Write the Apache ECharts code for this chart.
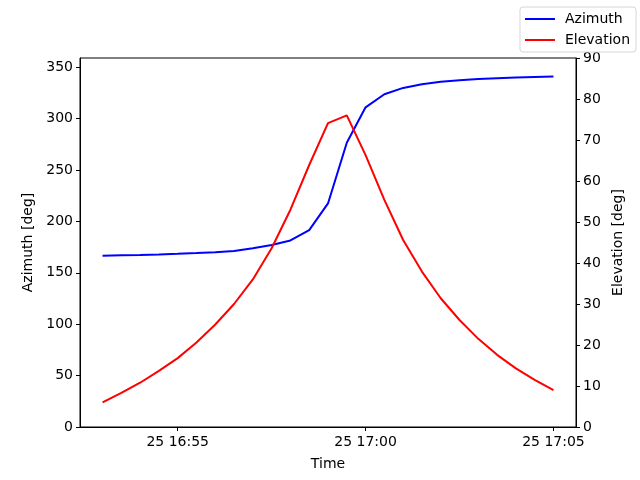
<!DOCTYPE html>
<html>
<head>
<meta charset="utf-8">
<script src="https://cdn.jsdelivr.net/npm/echarts@6/dist/echarts.min.js"></script>
<style>
  html, body { margin: 0; padding: 0; background: #fff; }
  #main { width: 640px; height: 480px; }
</style>
</head>
<body>
<div id="main"></div>
<script>
// samples every 30 s, 16:53:00 -> 17:05:00 on the 25th
var startTime = [2024, 0, 25, 16, 53, 0];
var stepSec = 30;
var tickMinutes = [[16, 55], [17, 0], [17, 5]];
var azimuth = [166.5, 167.0, 167.4, 167.9, 168.5, 169.2, 170.0, 171.3, 174.0, 177.0,
               181.5, 191.5, 217.5, 276.5, 311.0, 323.7, 329.9, 333.5, 335.8, 337.3,
               338.5, 339.3, 340.0, 340.5, 341.0];
var elevation = [6.0, 8.3, 10.8, 13.7, 16.8, 20.6, 25.0, 30.0, 36.0, 43.6,
                 53.0, 63.9, 74.1, 76.0, 66.3, 55.4, 45.6, 37.9, 31.4, 26.1,
                 21.5, 17.6, 14.3, 11.5, 9.0];

var t0 = new Date(startTime[0], startTime[1], startTime[2], startTime[3], startTime[4], startTime[5]).getTime();
var times = azimuth.map(function (v, i) { return t0 + i * stepSec * 1000; });
var span = times[times.length - 1] - times[0];
var tickTimes = tickMinutes.map(function (hm) {
  return new Date(startTime[0], startTime[1], startTime[2], hm[0], hm[1], 0).getTime();
});

function pad(n) { return (n < 10 ? '0' : '') + n; }

var font = 'DejaVu Sans';
var chart = echarts.init(document.getElementById('main'));
chart.setOption({
  animation: false,
  textStyle: { fontFamily: font },
  grid: { left: 80, right: 64, top: 58, bottom: 53, show: true, borderColor: '#000', borderWidth: 1 },
  legend: {
    orient: 'vertical', right: 4, top: 7,
    data: ['Azimuth', 'Elevation'],
    icon: 'rect', itemWidth: 30, itemHeight: 2, itemGap: 7,
    padding: [5, 6, 5, 5],
    borderColor: '#d6d6d6', borderWidth: 1, borderRadius: 3,
    textStyle: { fontSize: 14, color: '#000', fontFamily: font, padding: [0, 0, 0, 5] }
  },
  xAxis: {
    type: 'value',
    min: times[0] - span * 0.05,
    max: times[times.length - 1] + span * 0.05,
    name: 'Time', nameLocation: 'middle', nameGap: 30,
    nameTextStyle: { fontSize: 14, color: '#000' },
    axisLine: { lineStyle: { color: '#000' } },
    axisTick: { show: true, length: 4, lineStyle: { color: '#000' }, customValues: tickTimes },
    splitLine: { show: false },
    axisLabel: {
      fontSize: 14, color: '#000', margin: 8,
      customValues: tickTimes,
      formatter: function (val) {
        var d = new Date(val);
        return d.getDate() + ' ' + pad(d.getHours()) + ':' + pad(d.getMinutes());
      }
    }
  },
  yAxis: [{
    type: 'value', min: 0, max: 359, interval: 50,
    name: 'Azimuth [deg]', nameLocation: 'middle', nameGap: 44, nameRotate: 90,
    nameTextStyle: { fontSize: 14, color: '#000' },
    axisLine: { show: true, lineStyle: { color: '#000' } },
    axisTick: { show: true, length: 4, lineStyle: { color: '#000' } },
    splitLine: { show: false },
    axisLabel: { fontSize: 14, color: '#000', margin: 7, showMaxLabel: false }
  }, {
    type: 'value', min: 0, max: 90, interval: 10,
    name: 'Elevation [deg]', nameLocation: 'middle', nameGap: 32, nameRotate: 90,
    nameTextStyle: { fontSize: 14, color: '#000' },
    axisLine: { show: true, lineStyle: { color: '#000' } },
    axisTick: { show: true, length: 4, lineStyle: { color: '#000' } },
    splitLine: { show: false },
    axisLabel: { fontSize: 14, color: '#000', margin: 7 }
  }],
  series: [{
    name: 'Azimuth', type: 'line', yAxisIndex: 0,
    showSymbol: false, symbol: 'none',
    lineStyle: { color: '#0000ff', width: 2 }, itemStyle: { color: '#0000ff' },
    data: times.map(function (t, i) { return [t, azimuth[i]]; })
  }, {
    name: 'Elevation', type: 'line', yAxisIndex: 1,
    showSymbol: false, symbol: 'none',
    lineStyle: { color: '#ff0000', width: 2 }, itemStyle: { color: '#ff0000' },
    data: times.map(function (t, i) { return [t, elevation[i]]; })
  }]
});
</script>
</body>
</html>
